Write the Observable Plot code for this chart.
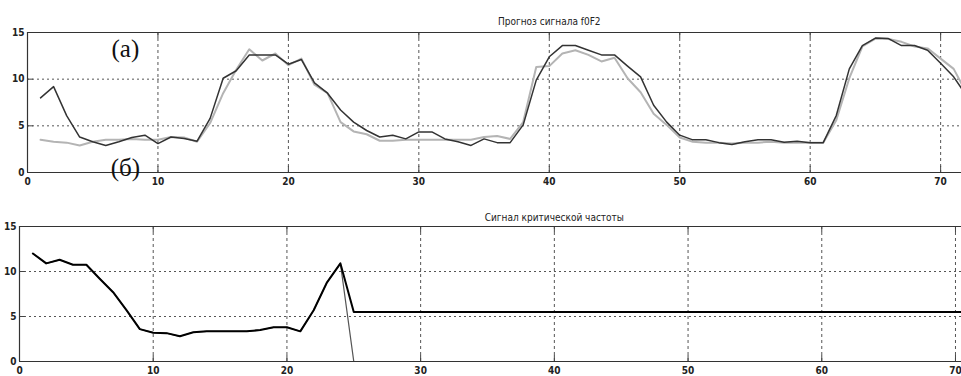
<!DOCTYPE html>
<html>
<head>
<meta charset="utf-8">
<script src="https://cdn.jsdelivr.net/npm/d3@7"></script>
<script src="https://cdn.jsdelivr.net/npm/@observablehq/plot@0.6"></script>
<style>
  html, body { margin: 0; padding: 0; background: #fff; }
  #chart { width: 961px; height: 376px; overflow: hidden; }
  #chart svg { display: block; }
  #chart svg g[aria-label$="tick label"] text { font-weight: bold; }
</style>
</head>
<body>
<div id="chart"></div>
<script>
// ---- data ----
const topTitle = "Прогноз сигнала f0F2";
const bottomTitle = "Сигнал критической частоты";
const labelA = "(а)";
const labelB = "(б)";

const topX = [1,2,3,4,5,6,7,8,9,10,11,12,13,14,15,16,17,18,19,20,21,22,23,24,25,26,27,28,29,30,31,32,33,34,35,36,37,38,39,40,41,42,43,44,45,46,47,48,49,50,51,52,53,54,55,56,57,58,59,60,61,62,63,64,65,66,67,68,69,70,71,72];
const topDark = [8.0,9.2,6.1,3.8,3.3,2.9,3.3,3.75,4.0,3.1,3.8,3.65,3.35,5.8,10.1,10.9,12.6,12.6,12.6,11.6,12.1,9.6,8.5,6.7,5.4,4.5,3.8,4.0,3.6,4.35,4.35,3.6,3.3,2.9,3.6,3.2,3.2,5.1,9.9,12.4,13.6,13.6,13.1,12.6,12.6,11.4,10.25,7.2,5.4,4.0,3.5,3.5,3.2,3.0,3.3,3.5,3.5,3.25,3.35,3.2,3.2,6.1,11.1,13.6,14.4,14.35,13.6,13.6,13.1,11.7,10.25,8.2];
const topLight = [3.5,3.3,3.2,2.9,3.3,3.5,3.5,3.6,3.5,3.5,3.8,3.75,3.3,5.3,8.5,11.0,13.2,12.0,12.75,11.5,12.2,9.4,8.5,5.4,4.4,4.1,3.4,3.4,3.5,3.5,3.5,3.5,3.5,3.5,3.8,3.9,3.6,5.4,11.3,11.4,12.75,13.1,12.6,11.9,12.3,10.1,8.6,6.3,5.1,3.75,3.3,3.2,3.2,3.1,3.2,3.2,3.3,3.2,3.2,3.2,3.2,5.6,10.1,13.5,14.35,14.3,14.0,13.5,13.3,12.2,11.1,8.5];

const critX = [1,2,3,4,5,6,7,8,9,10,11,12,13,14,15,16,17,18,19,20,21,22,23,24,25,72];
const critHold = [12.0,10.9,11.3,10.75,10.75,9.2,7.7,5.7,3.6,3.2,3.15,2.8,3.25,3.35,3.35,3.35,3.35,3.5,3.8,3.8,3.35,5.7,8.8,10.9,5.5,5.5];
const critDrop = [12.0,10.9,11.3,10.75,10.75,9.2,7.7,5.7,3.6,3.2,3.15,2.8,3.25,3.35,3.35,3.35,3.35,3.5,3.8,3.8,3.35,5.7,8.8,10.9,0,0];

const xTicks = [0,10,20,30,40,50,60,70];
const yTicks = [0,5,10,15];
const yGrid = [5,10];
const xGrid = [10,20,30,40,50,60,70];

// ---- helpers ----
const FONT = "'Liberation Sans Narrow','DejaVu Sans Condensed','Liberation Sans',sans-serif";
const topRows = topX.map((x, i) => ({x, dark: topDark[i], light: topLight[i]}));
const critRows = critX.map((x, i) => ({x, hold: critHold[i], drop: critDrop[i]}));

function frameMarks(xMax, tickLenY, tickLenX) {
  return [
    Plot.ruleY(yGrid, {stroke: "#555", strokeWidth: 1, strokeDasharray: "2,3"}),
    Plot.ruleX(xGrid, {stroke: "#555", strokeWidth: 1, strokeDasharray: "3,3"}),
    Plot.ruleX(xGrid, {y1: 0, y2: tickLenY, stroke: "#444"}),
    Plot.ruleX(xGrid, {y1: 15, y2: 15 - tickLenY, stroke: "#444"}),
    Plot.ruleY(yGrid, {x1: 0, x2: tickLenX, stroke: "#444"}),
    Plot.ruleY([0, 15], {x1: 0, x2: xMax, stroke: "#333", strokeWidth: 1.2}),
    Plot.ruleX([0], {y1: 0, y2: 15, stroke: "#333", strokeWidth: 1.2}),
    Plot.axisX(xTicks, {tickSize: 0, tickPadding: 5, fill: "#222", label: null, fontSize: 10}),
    Plot.axisY(yTicks, {tickSize: 0, tickPadding: 3, fill: "#222", label: null, fontSize: 10})
  ];
}

// ---- top panel ----
const topMax = 71.6;
const topPlot = Plot.plot({
  width: 961, height: 190,
  marginLeft: 27, marginRight: 0, marginTop: 32, marginBottom: 18,
  x: {domain: [0, topMax], axis: null},
  y: {domain: [0, 15], axis: null},
  style: {fontFamily: FONT, fontSize: "10px", background: "#fff", overflow: "visible"},
  marks: [
    ...frameMarks(topMax, 0.65, 0.46),
    Plot.line(topRows, {x: "x", y: "light", stroke: "#b4b4b4", strokeWidth: 2, clip: true}),
    Plot.line(topRows, {x: "x", y: "dark", stroke: "#333", strokeWidth: 1.5, clip: true}),
    Plot.text([labelA], {x: 7.5, y: 13.2, text: d => d, fontFamily: "'Liberation Serif','DejaVu Serif',serif", fontSize: 25, fill: "#111", lineAnchor: "middle"}),
    Plot.text([labelB], {x: 7.5, y: 0.45, text: d => d, fontFamily: "'Liberation Serif','DejaVu Serif',serif", fontSize: 25, fill: "#111", lineAnchor: "middle"}),
    Plot.text([topTitle], {x: 40, frameAnchor: "top", dy: -15, text: d => d, fontSize: 10, fill: "#222"})
  ]
});

// ---- bottom panel ----
const botMax = 70.45;
const botPlot = Plot.plot({
  width: 961, height: 186,
  marginLeft: 19, marginRight: 0, marginTop: 36, marginBottom: 15,
  x: {domain: [0, botMax], axis: null},
  y: {domain: [0, 15], axis: null},
  style: {fontFamily: FONT, fontSize: "10px", background: "#fff", overflow: "visible"},
  marks: [
    ...frameMarks(botMax, 0.67, 0.45),
    Plot.line(critRows, {x: "x", y: "drop", stroke: "#555", strokeWidth: 1.2, clip: true}),
    Plot.line(critRows, {x: "x", y: "hold", stroke: "#000", strokeWidth: 2, clip: true}),
    Plot.text([bottomTitle], {x: 40, frameAnchor: "top", dy: -13, text: d => d, fontSize: 10, fill: "#222"})
  ]
});

const root = document.getElementById("chart");
root.appendChild(topPlot);
root.appendChild(botPlot);
</script>
</body>
</html>
